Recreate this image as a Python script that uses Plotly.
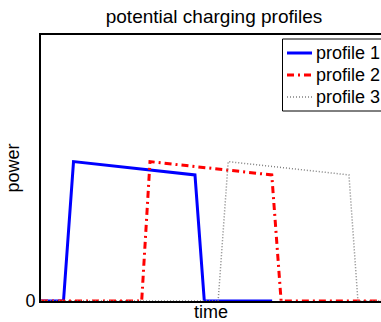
import plotly.graph_objects as go

# Time axis in arbitrary units (0..100 spans the full axes width)
t_profile1 = [0, 6.5, 9.4, 44.5, 47.2, 66.8]
p_profile1 = [0, 0, 0.524, 0.474, 0, 0]

t_profile2 = [0, 29.1, 31.5, 66.7, 69.4, 100]
p_profile2 = [0, 0, 0.524, 0.474, 0, 0]

t_profile3 = [0, 51.2, 54.1, 89.0, 91.6, 100]
p_profile3 = [0, 0, 0.524, 0.474, 0, 0]

names = ["profile 1", "profile 2", "profile 3"]
y_ticks = [0]
y_tick_labels = ["0"]

FONT = "Liberation Sans, Arial, Helvetica, sans-serif"

styles = [
    dict(color="#0000ff", width=3),
    dict(color="#ff0000", width=3, dash="7px,4px,2px,4px"),
    dict(color="#808080", width=1.5, dash="1px,2px"),
]
series = [(t_profile1, p_profile1), (t_profile2, p_profile2), (t_profile3, p_profile3)]

fig = go.Figure()
for (tx, py), nm, st in zip(series, names, styles):
    fig.add_trace(go.Scatter(x=tx, y=py, mode="lines", name=nm, line=st))

W, H = 381, 322
L, R, T, B = 41, 0, 35, 21
plot_w = W - L - R
plot_h = H - T - B
full_w = 346.0  # axes width in the original (extends past the image edge)


def px(xp):
    return (xp - L) / plot_w


def py_(yp):
    return (H - B - yp) / plot_h


# MATLAB-style legend box (partly cut off at the right edge, as in the original)
shapes = [dict(type="rect", xref="paper", yref="paper",
               x0=px(282.5), x1=px(395), y0=py_(39), y1=py_(111),
               line=dict(color="black", width=1), fillcolor="white", layer="above")]
annotations = []
row_y = [53, 75, 97]
for nm, st, ry in zip(names, styles, row_y):
    shapes.append(dict(type="line", xref="paper", yref="paper",
                       x0=px(287), x1=px(312), y0=py_(ry), y1=py_(ry),
                       line=dict(color=st["color"], width=st["width"],
                                 dash=st.get("dash", "solid")), layer="above"))
    annotations.append(dict(text=nm, xref="paper", yref="paper", x=px(313.5), y=py_(ry),
                            xanchor="left", yanchor="middle", showarrow=False,
                            font=dict(size=18, family=FONT, color="black")))

fig.update_layout(
    width=W, height=H,
    margin=dict(l=L, r=R, t=T, b=B, pad=0, autoexpand=False),
    paper_bgcolor="white", plot_bgcolor="white",
    font=dict(family=FONT, size=18, color="black"),
    title=dict(text="potential charging profiles", x=214 / W, xref="container",
               xanchor="center", y=1 - 16 / H, yref="container", yanchor="middle",
               font=dict(size=19, family=FONT, color="black")),
    showlegend=False,
    shapes=shapes,
    annotations=annotations,
)
fig.update_xaxes(range=[0, 100 * plot_w / full_w], showgrid=False, zeroline=False,
                 showline=True, linecolor="black", linewidth=2, mirror=True,
                 ticks="", showticklabels=False, layer="below traces",
                 title=dict(text="time", standoff=9, font=dict(size=18, family=FONT)))
fig.update_yaxes(range=[0, 1], showgrid=False, zeroline=False,
                 showline=True, linecolor="black", linewidth=2, mirror=False,
                 ticks="", tickvals=y_ticks, ticktext=y_tick_labels,
                 tickfont=dict(size=18, family=FONT),
                 layer="below traces",
                 title=dict(text="power", standoff=1, font=dict(size=18, family=FONT)))

fig.write_html("out.html")
